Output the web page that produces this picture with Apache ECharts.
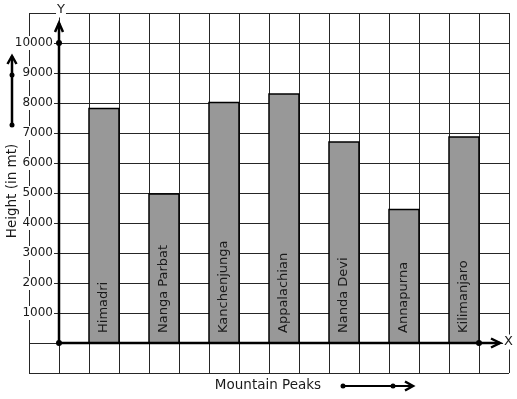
<!DOCTYPE html>
<html>
<head>
<meta charset="utf-8">
<script src="https://cdn.jsdelivr.net/npm/echarts@6/dist/echarts.min.js"></script>
<style>html,body{margin:0;padding:0;background:#fff;}#c{width:517px;height:399px;}</style>
</head>
<body>
<div id="c"></div>
<script>
const peaks = ['Himadri', 'Nanga Parbat', 'Kanchenjunga', 'Appalachian', 'Nanda Devi', 'Annapurna', 'Kilimanjaro'];
const heights = [7820, 4970, 8020, 8300, 6700, 4450, 6870];
const yTickLabels = ['1000', '2000', '3000', '4000', '5000', '6000', '7000', '8000', '9000', '10000'];
const yAxisTitle = 'Height (in mt)';
const xAxisTitle = 'Mountain Peaks';

const FONT = 'DejaVu Sans';
const chart = echarts.init(document.getElementById('c'), null, {renderer: 'canvas'});

function chevron(tip, dir, len, half, color) {
  let pts;
  if (dir === 'up') pts = [[tip[0] - half, tip[1] + len], tip, [tip[0] + half, tip[1] + len]];
  else pts = [[tip[0] - len, tip[1] - half], tip, [tip[0] - len, tip[1] + half]];
  return {type: 'polyline', shape: {points: pts}, style: {stroke: color, lineWidth: 2.5, fill: null}};
}

const option = {
  backgroundColor: '#fff',
  animation: false,
  grid: {left: 29, top: 13, width: 480, height: 360, containLabel: false, outerBoundsMode: 'none'},
  xAxis: {
    type: 'value', min: -1, max: 15, interval: 1,
    axisLine: {show: false, onZero: false},
    axisTick: {show: false}, axisLabel: {show: false},
    splitLine: {show: true, lineStyle: {color: '#262626', width: 1}}
  },
  yAxis: {
    type: 'value', min: -1000, max: 11000, interval: 1000,
    offset: -30,
    axisLine: {show: false, onZero: false},
    axisTick: {show: false},
    axisLabel: {
      show: true, margin: 5, color: '#1a1a1a', fontFamily: FONT, fontSize: 12,
      backgroundColor: '#fff', padding: [1, 1],
      customValues: yTickLabels.map(Number),
      formatter: v => yTickLabels.indexOf(String(v)) >= 0 ? String(v) : ''
    },
    splitLine: {show: true, lineStyle: {color: '#262626', width: 1}}
  },
  graphic: [
    {type: 'text', x: 12, y: 191, rotation: Math.PI / 2, style: {text: yAxisTitle, font: '13.5px "' + FONT + '"', fill: '#1a1a1a', align: 'center', verticalAlign: 'middle'}},
    {type: 'group', children: [
      {type: 'line', shape: {x1: 12, y1: 125, x2: 12, y2: 56}, style: {stroke: '#000', lineWidth: 2.5}},
      chevron([12, 56], 'up', 8, 4.5, '#000'),
      {type: 'circle', shape: {cx: 12, cy: 75, r: 2.5}, style: {fill: '#000'}},
      {type: 'circle', shape: {cx: 12, cy: 125, r: 2.5}, style: {fill: '#000'}}
    ]},
    {type: 'text', x: 268, y: 385, style: {text: xAxisTitle, font: '13.5px "' + FONT + '"', fill: '#1a1a1a', align: 'center', verticalAlign: 'middle'}},
    {type: 'group', children: [
      {type: 'line', shape: {x1: 343, y1: 386, x2: 413, y2: 386}, style: {stroke: '#000', lineWidth: 2}},
      chevron([413, 386], 'right', 8, 4.5, '#000'),
      {type: 'circle', shape: {cx: 343, cy: 386, r: 2.5}, style: {fill: '#000'}},
      {type: 'circle', shape: {cx: 393, cy: 386, r: 2.5}, style: {fill: '#000'}}
    ]}
  ],
  series: [
    {
      type: 'custom', z: 3, clip: false,
      data: heights.map((h, i) => [2 * i + 1, 2 * i + 2, h]),
      encode: {x: [0, 1], y: 2},
      renderItem: function (params, api) {
        const x0 = api.value(0), x1 = api.value(1), h = api.value(2);
        const p0 = api.coord([x0, h]);
        const p1 = api.coord([x1, 0]);
        return {type: 'group', children: [
          {type: 'rect', shape: {x: p0[0], y: p0[1], width: p1[0] - p0[0], height: p1[1] - p0[1]},
           style: {fill: '#989898', stroke: '#000', lineWidth: 1.5}},
          {type: 'text', x: (p0[0] + p1[0]) / 2, y: p1[1] - 10, rotation: Math.PI / 2,
           style: {text: peaks[params.dataIndex], font: '13px "' + FONT + '"', fill: '#1a1a1a', align: 'left', verticalAlign: 'middle'}}
        ]};
      }
    },
    {
      type: 'custom', z: 5, clip: false,
      data: [[0, 0]],
      renderItem: function (params, api) {
        const o = api.coord([0, 0]);
        const yTop = api.coord([0, 10670]);
        const yTen = api.coord([0, 10000]);
        const xEnd = api.coord([14.7, 0]);
        const xDot = api.coord([14, 0]);
        const gridTop = api.coord([0, 11000]);
        const gridRight = api.coord([15, 0]);
        return {type: 'group', children: [
          {type: 'line', shape: {x1: o[0], y1: o[1], x2: yTop[0], y2: yTop[1]}, style: {stroke: '#000', lineWidth: 2.5}},
          chevron(yTop, 'up', 9, 4, '#000'),
          {type: 'line', shape: {x1: o[0], y1: o[1], x2: xEnd[0], y2: xEnd[1]}, style: {stroke: '#000', lineWidth: 2.5}},
          chevron(xEnd, 'right', 9, 4.5, '#000'),
          {type: 'circle', shape: {cx: o[0], cy: o[1], r: 3}, style: {fill: '#000'}},
          {type: 'circle', shape: {cx: yTen[0], cy: yTen[1], r: 3}, style: {fill: '#000'}},
          {type: 'circle', shape: {cx: xDot[0], cy: xDot[1], r: 3}, style: {fill: '#000'}},
          {type: 'text', x: o[0] + 2, y: gridTop[1] - 3, style: {text: 'Y', font: '13px "' + FONT + '"', fill: '#1a1a1a', align: 'center', verticalAlign: 'middle', backgroundColor: '#fff', padding: [1, 1]}},
          {type: 'text', x: gridRight[0] - 0.5, y: o[1] - 1, style: {text: 'X', font: '13px "' + FONT + '"', fill: '#1a1a1a', align: 'center', verticalAlign: 'middle', backgroundColor: '#fff', padding: [1, 1]}}
        ]};
      }
    }
  ]
};
chart.setOption(option);
</script>
</body>
</html>
